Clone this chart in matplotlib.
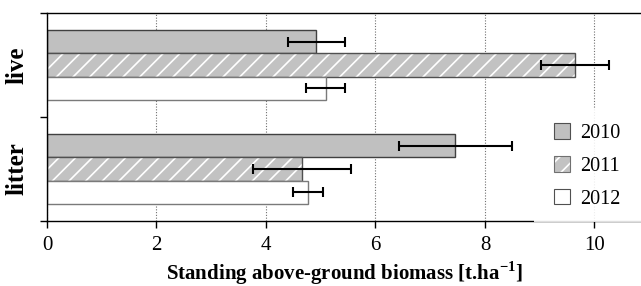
import matplotlib
matplotlib.use("Agg")
import matplotlib.pyplot as plt
from matplotlib.patches import Patch, Rectangle

plt.rcParams.update({"font.family": "Liberation Serif", "font.size": 15,
                     "hatch.linewidth": 1.2, "hatch.color": "white"})

categories = ["live", "litter"]
years = ["2010", "2011", "2012"]
values = {"2010": [4.92, 7.46], "2011": [9.64, 4.66], "2012": [5.09, 4.77]}
errors = {"2010": [0.52, 1.03], "2011": [0.62, 0.90], "2012": [0.36, 0.28]}

fills = {"2010": "#c0c0c0", "2011": "#c2c2c2", "2012": "white"}
edges = {"2010": "#404040", "2011": "#505050", "2012": "#7a7a7a"}
hatches = {"2010": None, "2011": "//", "2012": None}

fig = plt.figure(figsize=(6.41, 2.86), dpi=100)
ax = fig.add_axes([47 / 641, 1 - 221 / 286, 1 - 47 / 641, 208 / 286])

h = 0.222
centers = [0.5 + i for i in range(len(categories))]
for k, yr in enumerate(years):
    ys = [c + (k - 1) * h for c in centers]
    if hatches[yr]:
        ax.barh(ys, values[yr], height=h, color=fills[yr], hatch=hatches[yr],
                edgecolor="white", linewidth=0, zorder=2)
        ax.barh(ys, values[yr], height=h, fill=False, edgecolor=edges[yr],
                linewidth=1.0, zorder=2)
    else:
        ax.barh(ys, values[yr], height=h, color=fills[yr],
                edgecolor=edges[yr], linewidth=1.0, zorder=2)
    ax.errorbar(values[yr], ys, xerr=errors[yr], fmt="none", ecolor="black",
                elinewidth=1.5, capsize=3.5, capthick=1.5, zorder=3)

ax.set_xlim(0, 10.85)
ax.set_ylim(2, 0)
ax.set_xticks([0, 2, 4, 6, 8, 10])
ax.set_yticks([0, 1, 2])
ax.set_yticklabels([])
ax.set_yticks(centers, minor=True)
ax.set_yticklabels(categories, minor=True, rotation=90, va="center",
                   fontweight="bold", fontsize=18)
ax.tick_params(axis="y", which="major", length=5, width=1, direction="out")
ax.tick_params(axis="y", which="minor", length=0, pad=13)
ax.tick_params(axis="x", length=5, width=1, direction="out", pad=6)
ax.set_axisbelow(True)
ax.xaxis.grid(True, linestyle=(0, (1, 1.5)), color="#707070", lw=0.8)
ax.spines["right"].set_visible(False)
for s in ["top", "left", "bottom"]:
    ax.spines[s].set_linewidth(1.0)

ax.set_xlabel("Standing above-ground biomass [t.ha$^{\\mathregular{-1}}$]",
              fontweight="bold", fontsize=15, labelpad=3)

# white box behind the legend, like the original
fig.patches.append(Rectangle((534 / 641, 1 - 222 / 286), 107 / 641, 114 / 286,
                             transform=fig.transFigure, facecolor="white",
                             edgecolor="none", alpha=0.88, zorder=1))

handles = []
for y in years:
    if hatches[y]:
        handles.append((Patch(facecolor=fills[y], edgecolor="white",
                              hatch=hatches[y], linewidth=0),
                        Patch(fill=False, edgecolor="#707070", linewidth=0.8)))
    else:
        handles.append(Patch(facecolor=fills[y], edgecolor="#505050",
                             linewidth=0.8))
leg = fig.legend(handles, years, loc="center",
                 bbox_to_anchor=(587 / 641, 1 - 166 / 286),
                 bbox_transform=fig.transFigure, frameon=False,
                 handlelength=0.8, handleheight=0.8, handletextpad=0.5,
                 labelspacing=0.65, borderpad=0, fontsize=14.5)
leg.set_zorder(5)

fig.savefig("out.png", dpi=100)
